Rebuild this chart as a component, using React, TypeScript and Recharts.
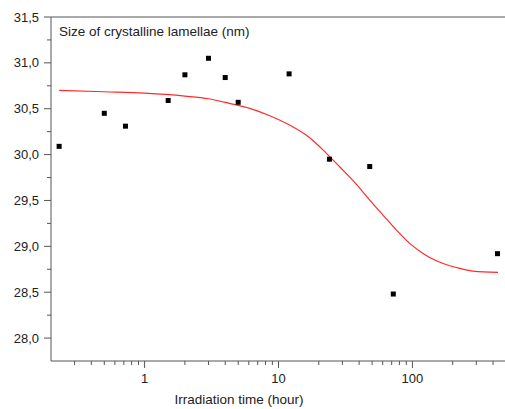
import React from "react";
import { ComposedChart, Scatter, Line, XAxis, YAxis, ReferenceLine } from "recharts";

// measured points: irradiation time (hour) vs lamella size (nm)
const hours = [0.23, 0.5, 0.72, 1.5, 2, 3, 4, 5, 12, 24, 48, 72, 432];
const sizes = [30.09, 30.45, 30.31, 30.59, 30.87, 31.05, 30.84, 30.57, 30.88, 29.95, 29.87, 28.48, 28.92];

// fitted curve
const fitHours = [0.23, 0.5, 1, 2, 3, 4.3, 6.1, 8.6, 12.1, 17.1, 22.8, 28.6, 38.2, 48, 60.3, 76, 95.5, 120, 151, 190, 226, 284, 436];
const fitSizes = [30.7, 30.685, 30.67, 30.638, 30.609, 30.559, 30.504, 30.424, 30.322, 30.184, 30.014, 29.868, 29.676, 29.504, 29.341, 29.177, 29.032, 28.923, 28.842, 28.788, 28.76, 28.73, 28.716];

const xTicks = [0.2, 0.3, 0.4, 0.5, 0.6, 0.7, 0.8, 0.9, 1, 2, 3, 4, 5, 6, 7, 8, 9, 10, 20, 30, 40, 50, 60, 70, 80, 90, 100, 200, 300, 400, 500];
const xMajor = [1, 10, 100];
const yTicks = [27.75, 28, 28.25, 28.5, 28.75, 29, 29.25, 29.5, 29.75, 30, 30.25, 30.5, 30.75, 31, 31.25, 31.5];

const points = hours.map((h, i) => ({ x: h, y: sizes[i] }));
const fit = fitHours.map((h, i) => ({ x: h, y: fitSizes[i] }));

const axisColor = "#555";
const font = "'Liberation Sans', Arial, sans-serif";

const XTick = (props: any) => {
  const { x, y, payload } = props;
  const major = xMajor.includes(payload.value);
  if (payload.value === 0.2) return null;
  return (
    <g>
      <line x1={x} x2={x} y1={y} y2={y + (major ? 7 : 4)} stroke={axisColor} />
      {major && (
        <text x={x} y={y + 22} textAnchor="middle" fontSize={13} fill="#222" fontFamily={font}>
          {payload.value}
        </text>
      )}
    </g>
  );
};

const YTick = (props: any) => {
  const { x, y, payload } = props;
  const v = payload.value;
  if (v === 27.75) return null;
  const major = Math.abs(v * 2 - Math.round(v * 2)) < 1e-6;
  return (
    <g>
      <line x1={x - (major ? 7 : 4)} x2={x} y1={y} y2={y} stroke={axisColor} />
      {major && (
        <text x={x - 12} y={y + 4.5} textAnchor="end" fontSize={13} fill="#222" fontFamily={font}>
          {v.toFixed(1).replace(".", ",")}
        </text>
      )}
    </g>
  );
};

const Square = (props: any) => {
  const { cx, cy } = props;
  return <rect x={cx - 2.5} y={cy - 2.5} width={5} height={5} fill="#000" />;
};

export default function App() {
  return (
    <div style={{ position: "absolute", left: 0, top: 0, width: 505, height: 409, overflow: "hidden", background: "#fff", fontFamily: font }}>
      <ComposedChart width={520} height={409} margin={{ top: 17, right: 14, bottom: 0, left: 0 }}>
        <XAxis
          dataKey="x"
          type="number"
          scale="log"
          domain={[0.2, 500]}
          allowDataOverflow
          ticks={xTicks}
          interval={0}
          height={48}
          tickSize={0}
          tickMargin={0}
          tickLine={false}
          tick={<XTick />}
          stroke={axisColor}
        />
        <YAxis
          dataKey="y"
          type="number"
          domain={[27.75, 31.5]}
          allowDataOverflow
          ticks={yTicks}
          interval={0}
          width={51}
          tickSize={0}
          tickMargin={0}
          tickLine={false}
          tick={<YTick />}
          stroke={axisColor}
        />
        <ReferenceLine y={31.5} stroke={axisColor} />
        <Line data={fit} dataKey="y" type="monotone" stroke="#ff2a2a" strokeWidth={1.2} dot={false} isAnimationActive={false} />
        <Scatter data={points} dataKey="y" shape={<Square />} isAnimationActive={false} />
      </ComposedChart>
      <div style={{ position: "absolute", left: 59, top: 23, fontSize: 13.5, lineHeight: "17px", color: "#222" }}>
        Size of crystalline lamellae (nm)
      </div>
      <div style={{ position: "absolute", left: 139, width: 200, top: 391, textAlign: "center", fontSize: 13.5, lineHeight: "17px", color: "#222" }}>
        Irradiation time (hour)
      </div>
    </div>
  );
}
